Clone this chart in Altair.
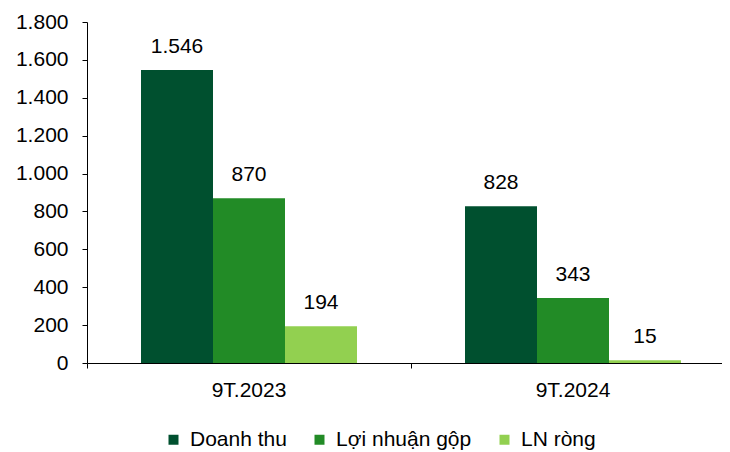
import altair as alt
import pandas as pd

categories = ["9T.2023", "9T.2024"]
series = ["Doanh thu", "Lợi nhuận gộp", "LN ròng"]
values_2023 = [1546, 870, 194]
values_2024 = [828, 343, 15]
colors = ["#00502F", "#228B26", "#92D050"]
y_ticks = [0, 200, 400, 600, 800, 1000, 1200, 1400, 1600, 1800]

rows = []
for cat, vals in zip(categories, [values_2023, values_2024]):
    for s, v in zip(series, vals):
        rows.append({"period": cat, "series": s, "value": v,
                     "label": f"{v:,}".replace(",", ".")})
df = pd.DataFrame(rows)

FONT = "Liberation Sans"
FS = 21

base = alt.Chart(df).encode(
    x=alt.X("period:N", sort=categories,
            scale=alt.Scale(paddingInner=0, paddingOuter=0, range=[0, 648]),
            axis=alt.Axis(title=None, bandPosition=0,
                          labelPadding=11, tickSize=5, labelAngle=0,
                          labelFontSize=FS, labelFont=FONT, labelColor="#000",
                          domainColor="#000", tickColor="#000")),
    xOffset=alt.XOffset("series:N", sort=series,
                        scale=alt.Scale(paddingInner=0, paddingOuter=0.75)),
    y=alt.Y("value:Q", scale=alt.Scale(domain=[0, 1800], nice=False),
            axis=alt.Axis(title=None, values=y_ticks, grid=False, tickSize=5,
                          labelPadding=14,
                          labelFontSize=FS, labelFont=FONT, labelColor="#000",
                          domainColor="#000", tickColor="#000",
                          labelExpr="replace(format(datum.value, ','), ',', '.')")),
)

bars = base.mark_bar().encode(
    color=alt.Color("series:N", sort=series,
                    scale=alt.Scale(domain=series, range=colors),
                    legend=alt.Legend(title=None, orient="none", legendX=76, legendY=407,
                                      direction="horizontal", symbolType="square",
                                      symbolSize=100, symbolStrokeWidth=0,
                                      labelFontSize=FS, labelFont=FONT, labelColor="#000",
                                      columnPadding=22, labelOffset=6))
)

text = base.mark_text(baseline="alphabetic", dy=-17, fontSize=FS, font=FONT,
                      color="#000").encode(text="label:N")

chart = (bars + text).properties(
    width=635, height=341,
    background="white",
    autosize=alt.AutoSizeParams(type="none"),
    padding={"left": 79, "top": 14, "right": 0, "bottom": 88},
).configure_view(stroke=None)

chart.save("out.html", embed_options={"renderer": "svg", "actions": False})
